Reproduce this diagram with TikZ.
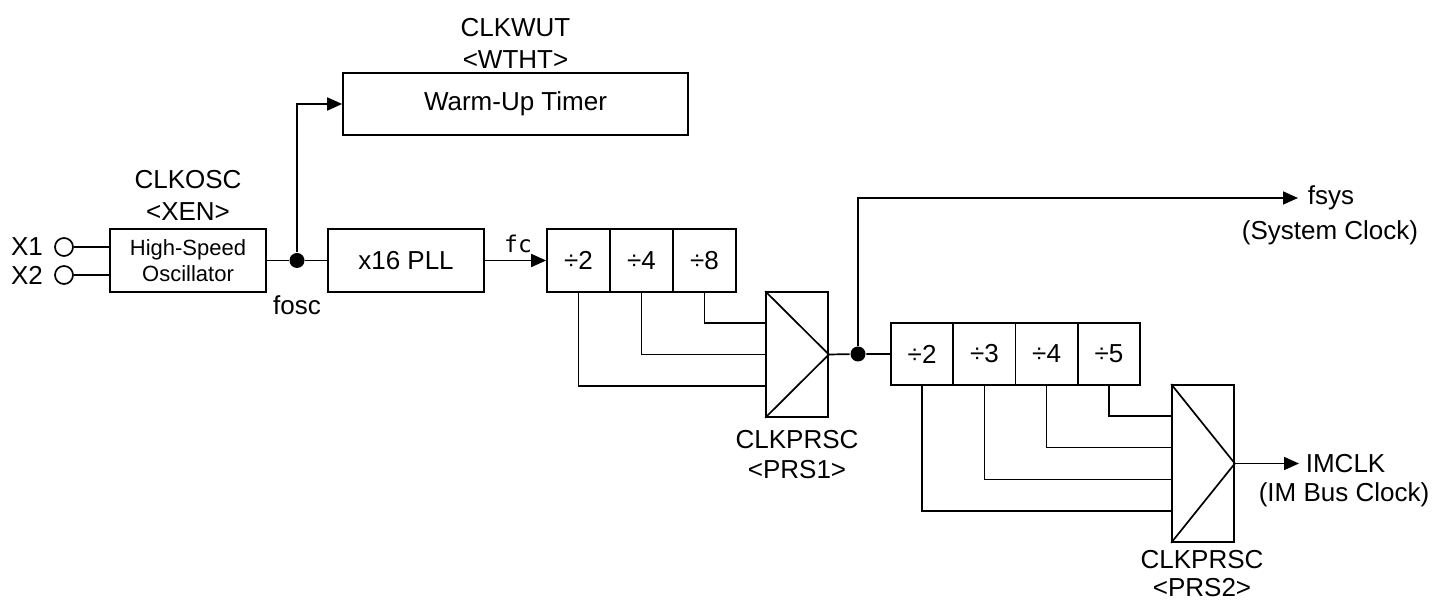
\documentclass[tikz,border=0pt]{standalone}
\usepackage{fontspec}
\setmainfont{Liberation Sans}
\newfontfamily\monofont{DejaVu Sans Mono}
\usetikzlibrary{arrows.meta,calc}
\begin{document}
\begin{tikzpicture}[x=0.5pt,y=-0.5pt,line width=0.85pt,
  blk/.style={draw,inner sep=0pt,font=\fontsize{13}{16}\selectfont},
  lbl/.style={inner sep=0pt,align=center,font=\fontsize{13}{16}\selectfont},
  junc/.style={circle,fill,inner sep=0pt,minimum size=7.5pt},
  term/.style={circle,draw,inner sep=0pt,minimum size=9pt},
  arr/.style={-{Triangle[length=7.5pt,width=6.5pt]}}]
\path[fill=white] (0,0) rectangle (1448,603);
\useasboundingbox (0,0) rectangle (1448,603);

% blocks
\node[blk,minimum width=78pt,minimum height=31.5pt,align=center,font=\fontsize{11}{13}\selectfont] (osc) at (188,260.5) {High-Speed\\Oscillator};
\node[blk,minimum width=172.5pt,minimum height=31pt] (wut) at (515.5,104) {Warm-Up Timer};
\node[blk,minimum width=78pt,minimum height=31.5pt] (pll) at (406,260.5) {x16 PLL};
\node[blk,minimum width=31.5pt,minimum height=31.5pt] (d1a) at (578.5,260.5) {÷2};
\node[blk,minimum width=31.5pt,minimum height=31.5pt] (d1b) at (641.5,260.5) {÷4};
\node[blk,minimum width=31.5pt,minimum height=31.5pt] (d1c) at (704.5,260.5) {÷8};
\node[draw,inner sep=0pt,minimum width=31pt,minimum height=62.5pt] (mux1) at (797,354.5) {};
\node[blk,minimum width=31.125pt,minimum height=31pt] (d2a) at (922.1,354) {÷2};
\node[blk,minimum width=31.125pt,minimum height=31pt] (d2b) at (984.4,354) {÷3};
\node[blk,minimum width=31.125pt,minimum height=31pt] (d2c) at (1046.6,354) {÷4};
\node[blk,minimum width=31.125pt,minimum height=31pt] (d2d) at (1108.9,354) {÷5};
\node[draw,inner sep=0pt,minimum width=31pt,minimum height=78.5pt] (mux2) at (1203,463.5) {};

% mux triangles
\draw (mux1.north west) -- (mux1.east) -- (mux1.south west);
\draw (mux2.north west) -- (mux2.east) -- (mux2.south west);

% terminals and junctions
\node[term] (c1) at (64,247) {};
\node[term] (c2) at (64,275) {};
\node[junc] (j1) at (297,260.5) {};
\node[junc] (j2) at (858,354) {};

% labels
\node[lbl] (x1) at (27,247) {X1};
\node[lbl] (x2) at (27,275) {X2};
\node[lbl] (osct) at (188,180) {CLKOSC};
\node[lbl] (oscr) at (188,212) {<XEN>};
\node[lbl] (wutt) at (515.5,28) {CLKWUT};
\node[lbl] (wutr) at (515.5,60) {<WTHT>};
\node[lbl] (fosc) at (297,305) {fosc};
\node[inner sep=0pt,font=\monofont\fontsize{11.5}{13}\selectfont] (fc) at (518,244) {fc};
\node[lbl] (p1t) at (797,440) {CLKPRSC};
\node[lbl] (p1r) at (797,470) {<PRS1>};
\node[lbl] (p2t) at (1202,560) {CLKPRSC};
\node[lbl] (p2r) at (1202,588) {<PRS2>};
\node[lbl,anchor=west] (fsys) at (1307,198) {fsys};
\node[lbl] (fsysd) at (1330,233) {(System Clock)};
\node[lbl,anchor=west] (imclk) at (1305,463.5) {IMCLK};
\node[lbl] (imclkd) at (1344,495) {(IM Bus Clock)};
\coordinate (fsystip) at (1298,198);
\coordinate (imtip) at (1299,463.5);

% connectors
\draw (c1.east) -- (c1.east -| osc.west);
\draw (c2.east) -- (c2.east -| osc.west);
\draw (osc.east) -- (j1) -- (pll.west);
\draw[arr] (j1) |- (wut.west);
\draw[arr] (pll.east) -- (d1a.west);
\draw (d1c.south) |- ($(mux1.north west)!0.25!(mux1.south west)$);
\draw (d1b.south) |- ($(mux1.north west)!0.5!(mux1.south west)$);
\draw (d1a.south) |- ($(mux1.north west)!0.75!(mux1.south west)$);
\draw (mux1.east) -- (j2) -- (d2a.west);
\draw[arr] (j2) |- (fsystip);
\draw (d2d.south) |- ($(mux2.north west)!0.2!(mux2.south west)$);
\draw (d2c.south) |- ($(mux2.north west)!0.4!(mux2.south west)$);
\draw (d2b.south) |- ($(mux2.north west)!0.6!(mux2.south west)$);
\draw (d2a.south) |- ($(mux2.north west)!0.8!(mux2.south west)$);
\draw[arr] (mux2.east) -- (imtip);
\end{tikzpicture}
\end{document}
